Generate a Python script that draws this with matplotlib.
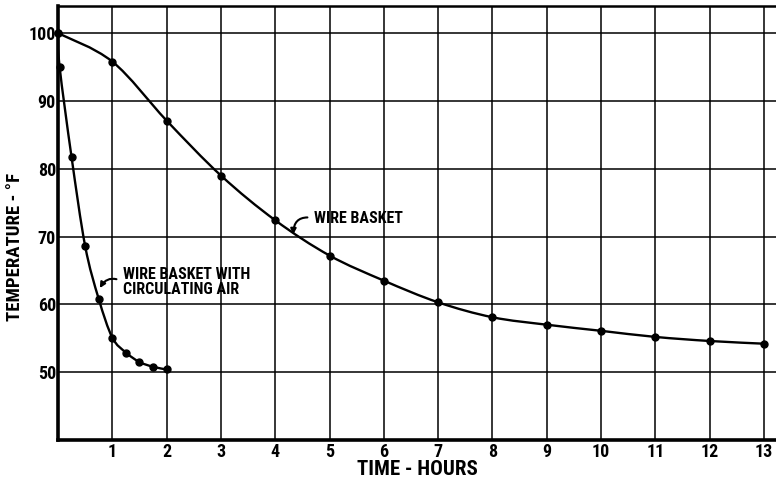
import matplotlib.pyplot as plt
from matplotlib.path import Path
from matplotlib.patches import PathPatch

# wire basket, hourly readings
basket_hours = [0, 1, 2, 3, 4, 5, 6, 7, 8, 9, 10, 11, 12, 13]
basket_temp = [100, 95.8, 87.1, 79.0, 72.4, 67.2, 63.5, 60.3, 58.1, 57.0,
               56.1, 55.2, 54.6, 54.2]

# wire basket with circulating air
air_hours = [0, 0.03, 0.25, 0.5, 0.75, 1.0, 1.25, 1.5, 1.75, 2.0]
air_temp = [100, 95.0, 81.7, 68.6, 60.8, 55.1, 52.9, 51.5, 50.8, 50.4]

hour_ticks = list(range(1, 14))
temp_ticks = [50, 60, 70, 80, 90, 100]

FONT = ['Roboto Condensed', 'Liberation Sans Narrow', 'Roboto', 'DejaVu Sans']


def smooth_path(xs, ys):
    """Catmull-Rom curve through the points, as cubic Bezier segments."""
    pts = list(zip(xs, ys))
    pts_ext = [pts[0]] + pts + [pts[-1]]
    verts = [pts[0]]
    codes = [Path.MOVETO]
    for i in range(1, len(pts_ext) - 2):
        p0, p1, p2, p3 = pts_ext[i - 1], pts_ext[i], pts_ext[i + 1], pts_ext[i + 2]
        c1 = (p1[0] + (p2[0] - p0[0]) / 6, p1[1] + (p2[1] - p0[1]) / 6)
        c2 = (p2[0] - (p3[0] - p1[0]) / 6, p2[1] - (p3[1] - p1[1]) / 6)
        verts += [c1, c2, p2]
        codes += [Path.CURVE4] * 3
    return Path(verts, codes)


fig = plt.figure(figsize=(7.76, 4.8), dpi=100)
ax = fig.add_axes([58 / 776, 40 / 480, 1 - 58 / 776, 434 / 480])

ax.set_xlim(0, 13.22)
ax.set_ylim(40, 104)

ax.set_xticks(hour_ticks)
ax.set_yticks(temp_ticks)
ax.grid(True, color='black', linewidth=1.1)
ax.set_axisbelow(True)
ax.tick_params(axis='x', length=0, pad=2.5)
ax.tick_params(axis='y', length=0, pad=1.5)
for lab in ax.get_xticklabels() + ax.get_yticklabels():
    lab.set_family(FONT)
    lab.set_fontweight('bold')
    lab.set_fontsize(13)

ax.spines['left'].set_linewidth(2.6)
ax.spines['bottom'].set_linewidth(2.6)
ax.spines['top'].set_linewidth(1.8)
ax.spines['right'].set_visible(False)

for xs, ys in [(basket_hours, basket_temp), (air_hours, air_temp)]:
    ax.add_patch(PathPatch(smooth_path(xs, ys), facecolor='none',
                           edgecolor='black', linewidth=1.7, zorder=3))
    ax.plot(xs, ys, linestyle='none', marker='o', markersize=5,
            color='black', zorder=4, clip_on=False)

ax.set_xlabel('TIME - HOURS', family=FONT, fontweight='bold', fontsize=15)
ax.set_ylabel('TEMPERATURE - °F', family=FONT, fontweight='bold', fontsize=13.5)
ax.xaxis.set_label_coords(0.501, -0.046)
ax.yaxis.set_label_coords(-0.048, 0.445)

ax.annotate('WIRE BASKET', xy=(4.33, 70.3), xytext=(4.72, 72.7),
            family=FONT, fontweight='bold', fontsize=11.5, va='center',
            arrowprops=dict(arrowstyle='-|>', color='black', lw=1.5,
                            mutation_scale=8, shrinkA=3, shrinkB=0,
                            relpos=(0, 0.5),
                            connectionstyle='arc3,rad=0.6'))
ax.annotate('WIRE BASKET WITH\nCIRCULATING AIR', xy=(0.77, 62.4),
            xytext=(1.2, 63.3), family=FONT, fontweight='bold', fontsize=11.5,
            va='center', linespacing=1.05,
            arrowprops=dict(arrowstyle='-|>', color='black', lw=1.5,
                            mutation_scale=8, shrinkA=3, shrinkB=0,
                            relpos=(0, 0.5),
                            connectionstyle='arc3,rad=0.5'))

fig.savefig('out.png', dpi=100)
